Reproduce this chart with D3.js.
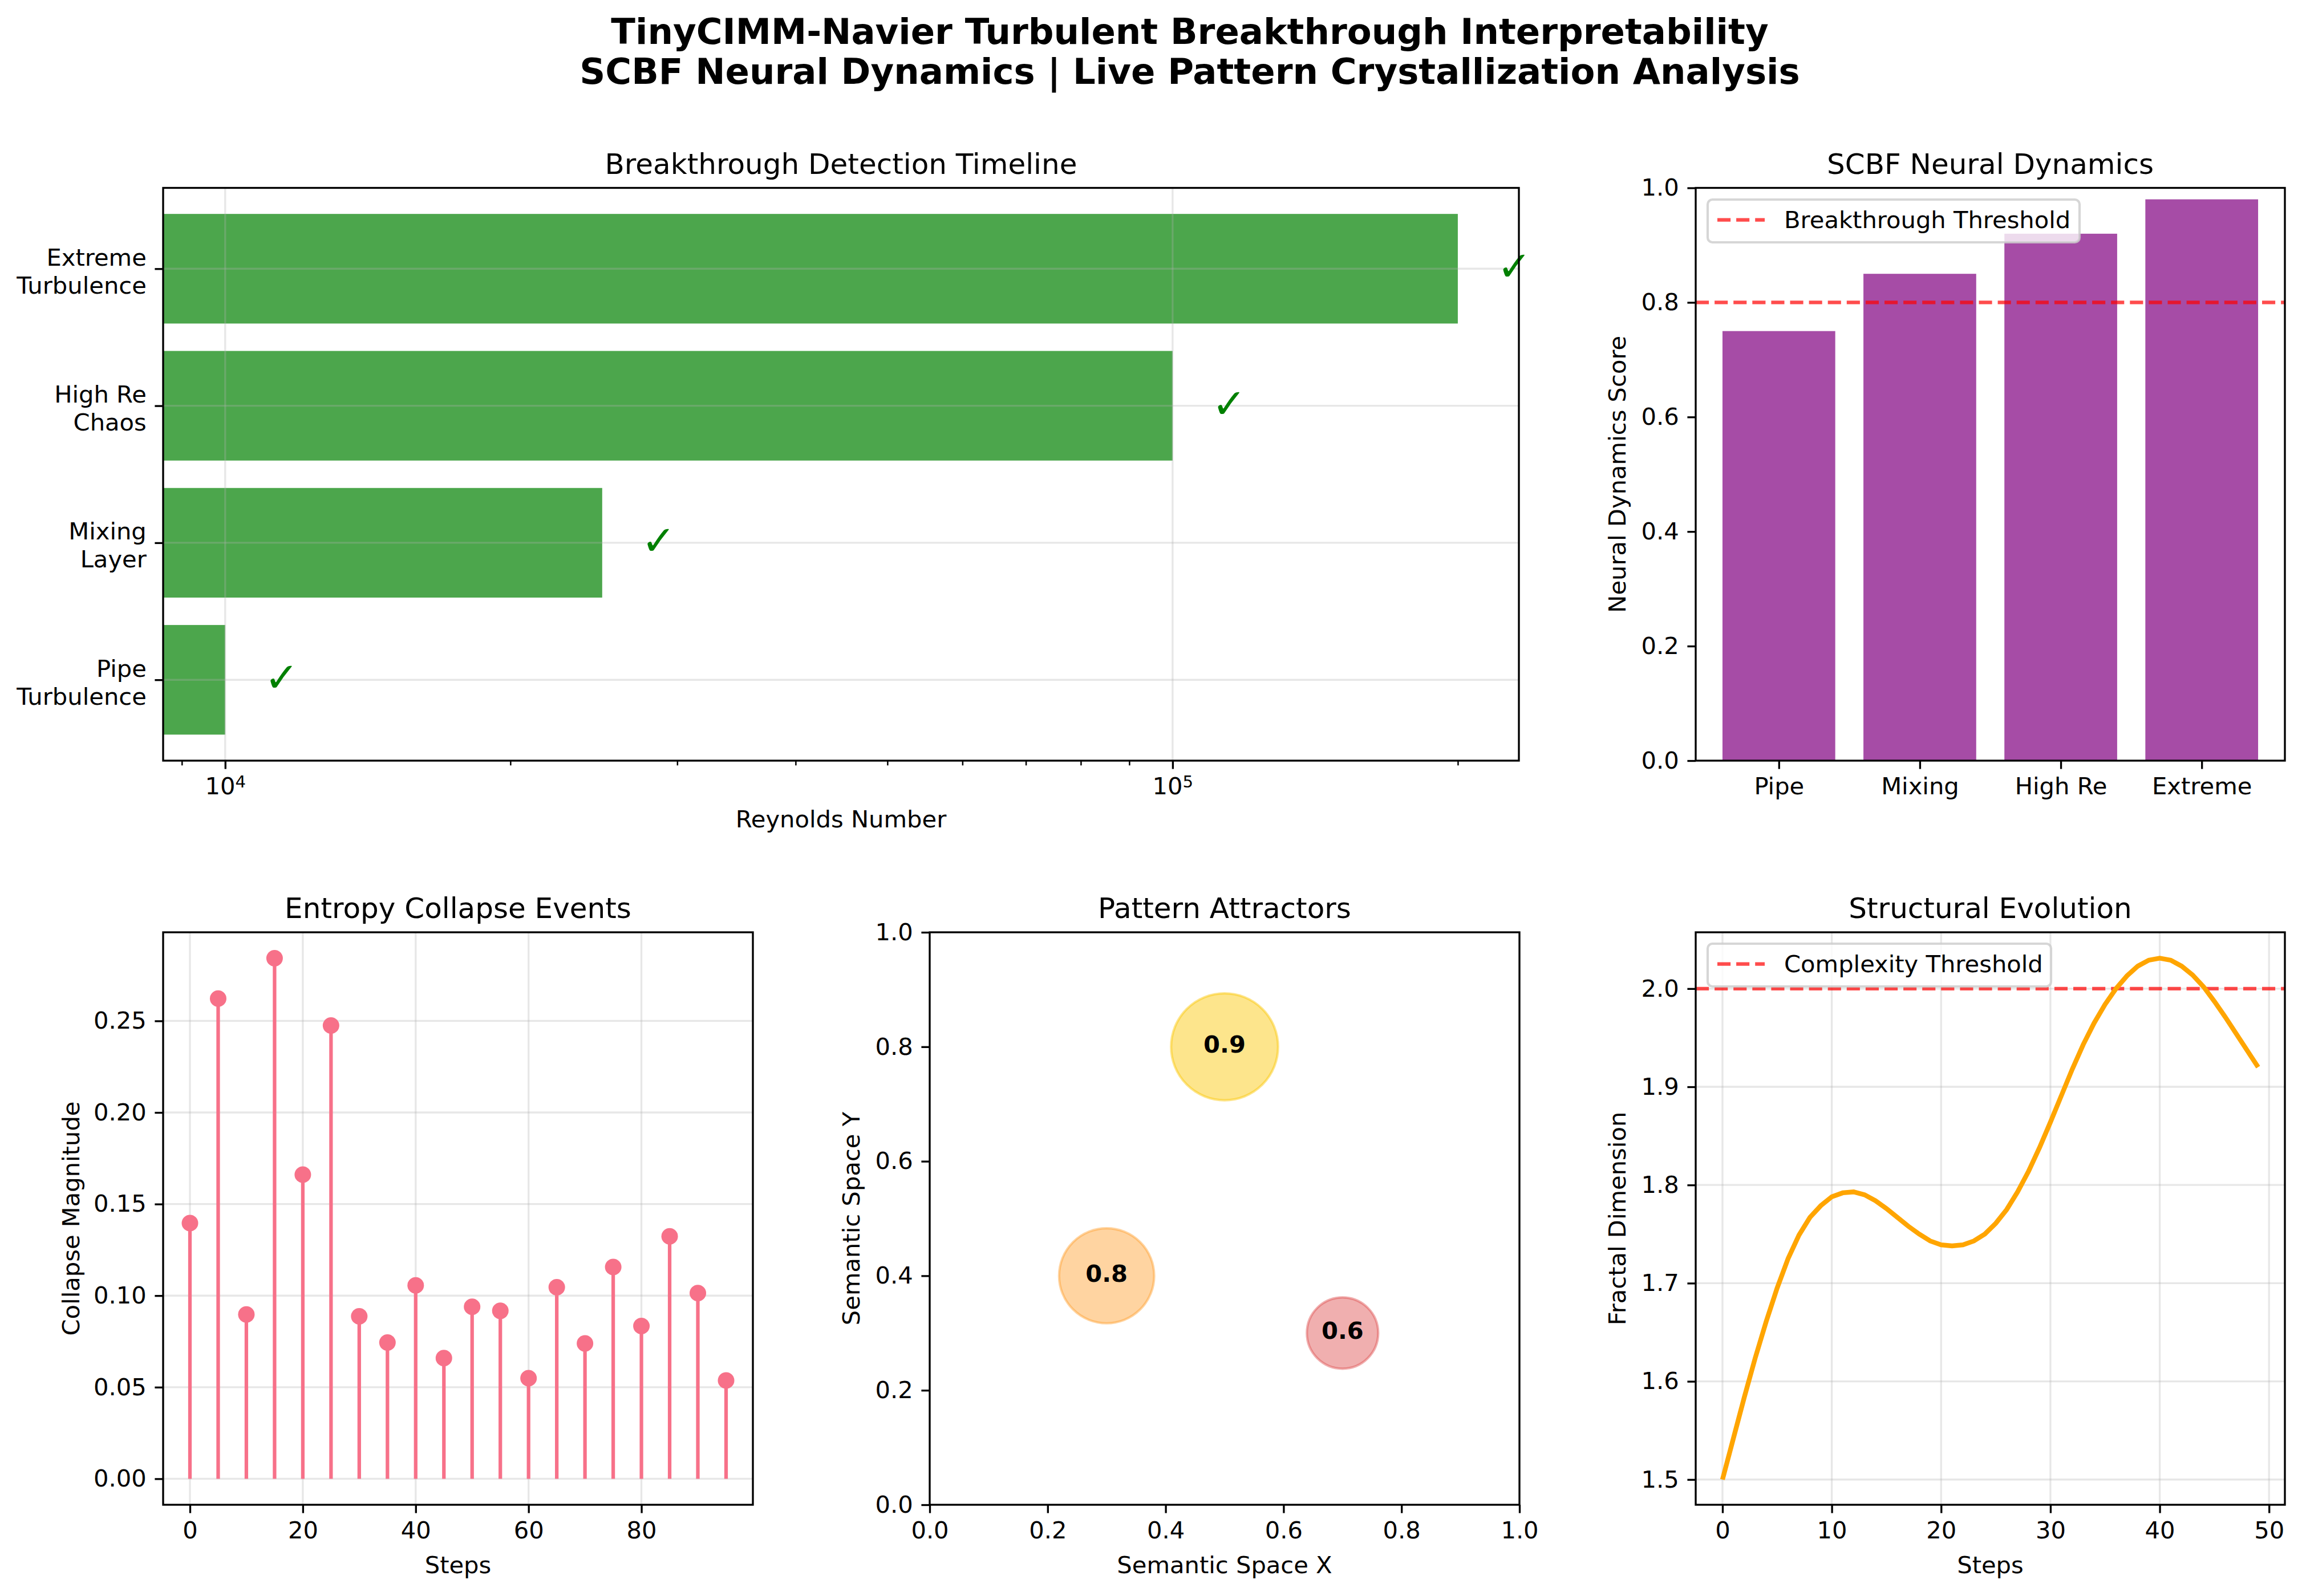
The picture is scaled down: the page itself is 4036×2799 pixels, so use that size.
<!DOCTYPE html>
<html>
<head>
<meta charset="utf-8">
<script src="https://cdn.jsdelivr.net/npm/d3@7"></script>
<style>
  html, body { margin: 0; background: #fff; }
  svg { display: block; }
  text { font-family: "DejaVu Sans"; fill: #000; }
</style>
</head>
<body>
<div id="chart"></div>
<script>
// breakthrough timeline
const regimes = ["Pipe\nTurbulence", "Mixing\nLayer", "High Re\nChaos", "Extreme\nTurbulence"];
const reynolds = [10000, 25000, 100000, 200000];

// neural dynamics
const regimesShort = ["Pipe", "Mixing", "High Re", "Extreme"];
const dynamicsScore = [0.75, 0.85, 0.92, 0.98];
const breakthroughThreshold = 0.8;

// entropy collapse events
const collapseSteps = [0, 5, 10, 15, 20, 25, 30, 35, 40, 45, 50, 55, 60, 65, 70, 75, 80, 85, 90, 95];
const collapseMagnitude = [0.1396, 0.2622, 0.0897, 0.2842, 0.1661, 0.2475, 0.0887, 0.0744, 0.1056, 0.0659,
    0.0939, 0.0917, 0.0549, 0.1046, 0.0739, 0.1156, 0.0834, 0.1324, 0.1014, 0.0537];

// attractors
const attractorX = [0.5, 0.3, 0.7];
const attractorY = [0.8, 0.4, 0.3];
const attractorStrength = [0.9, 0.8, 0.6];
const attractorColor = ["#fac500", "#ff9f2e", "#de4e4e"];

// structural evolution
const fractalDim = [1.500, 1.542, 1.584, 1.624, 1.661, 1.695, 1.725, 1.749, 1.767, 1.779,
    1.788, 1.792, 1.793, 1.790, 1.784, 1.776, 1.767, 1.758, 1.750, 1.743,
    1.739, 1.738, 1.739, 1.743, 1.750, 1.761, 1.775, 1.793, 1.814, 1.838,
    1.864, 1.891, 1.918, 1.943, 1.965, 1.984, 2.000, 2.013, 2.023, 2.029,
    2.031, 2.029, 2.023, 2.014, 2.002, 1.987, 1.971, 1.954, 1.937, 1.920];
const complexityThreshold = 2.0;

const width = 4036, height = 2799;
const TICK = 41.67, TITLE = 50, SUPTITLE = 62.5;
const RED = "#ff0000", GRID = "#b0b0b0", PINK = "#f77189";

const svg = d3.select("#chart").append("svg")
    .attr("width", width)
    .attr("height", height)
    .attr("viewBox", `0 0 ${width} ${height}`);

svg.append("rect").attr("width", width).attr("height", height).attr("fill", "#fff");

const suptitle = svg.append("text")
    .attr("text-anchor", "middle")
    .attr("font-size", SUPTITLE)
    .attr("font-weight", "bold");
suptitle.append("tspan").attr("x", 2086).attr("y", 77).text("TinyCIMM-Navier Turbulent Breakthrough Interpretability");
suptitle.append("tspan").attr("x", 2086).attr("y", 146.5).text("SCBF Neural Dynamics | Live Pattern Crystallization Analysis");

// one panel: returns plot group, frame gets added later so it stays on top
function panel(box, title, xLabel, yLabel, yLabelX, xLabelGap = 119.5) {
    const g = svg.append("g");
    g.append("text")
        .attr("x", (box.x0 + box.x1) / 2).attr("y", box.y0 - 25)
        .attr("text-anchor", "middle").attr("font-size", TITLE)
        .text(title);
    if (xLabel) g.append("text")
        .attr("x", (box.x0 + box.x1) / 2).attr("y", box.y1 + xLabelGap)
        .attr("text-anchor", "middle").attr("font-size", TICK)
        .text(xLabel);
    if (yLabel) g.append("text")
        .attr("transform", `translate(${yLabelX},${(box.y0 + box.y1) / 2}) rotate(-90)`)
        .attr("text-anchor", "middle").attr("font-size", TICK)
        .text(yLabel);
    return g;
}

function styleAxis(sel) {
    sel.select(".domain").remove();
    sel.selectAll(".tick line").attr("stroke", "#000").attr("stroke-width", 3.33);
    sel.selectAll(".tick text").attr("font-size", TICK).attr("font-family", "DejaVu Sans").attr("fill", "#000");
}

function xAxis(g, box, scale, ticks, fmt) {
    g.append("g").attr("transform", `translate(0,${box.y1})`)
        .call(d3.axisBottom(scale).tickValues(ticks).tickFormat(fmt).tickSize(14.6).tickPadding(14.6))
        .call(styleAxis);
}

function yAxis(g, box, scale, ticks, fmt) {
    g.append("g").attr("transform", `translate(${box.x0},0)`)
        .call(d3.axisLeft(scale).tickValues(ticks).tickFormat(fmt).tickSize(14.6).tickPadding(14.6))
        .call(styleAxis);
}

function grid(g, box, x, xTicks, y, yTicks) {
    const gg = g.append("g").attr("stroke", GRID).attr("stroke-width", 3.33).attr("stroke-opacity", 0.3);
    gg.selectAll(".gx").data(xTicks).enter().append("line")
        .attr("x1", d => x(d)).attr("x2", d => x(d)).attr("y1", box.y0).attr("y2", box.y1);
    gg.selectAll(".gy").data(yTicks).enter().append("line")
        .attr("y1", d => y(d)).attr("y2", d => y(d)).attr("x1", box.x0).attr("x2", box.x1);
}

function frame(g, box) {
    g.append("rect")
        .attr("x", box.x0).attr("y", box.y0)
        .attr("width", box.x1 - box.x0).attr("height", box.y1 - box.y0)
        .attr("fill", "none").attr("stroke", "#000").attr("stroke-width", 3.33);
}

function threshold(g, box, y, v) {
    g.append("line")
        .attr("x1", box.x0).attr("x2", box.x1).attr("y1", y(v)).attr("y2", y(v))
        .attr("stroke", RED).attr("stroke-opacity", 0.7).attr("stroke-width", 6.25)
        .attr("stroke-dasharray", "23.1 10");
}

function legend(g, x, y, w, label) {
    const h = 75;
    g.append("rect").attr("x", x).attr("y", y).attr("width", w).attr("height", h).attr("rx", 8.3)
        .attr("fill", "#fff").attr("fill-opacity", 0.8)
        .attr("stroke", "#ccc").attr("stroke-opacity", 0.8).attr("stroke-width", 4.17);
    g.append("line").attr("x1", x + 17).attr("x2", x + 100).attr("y1", y + h / 2 - 2).attr("y2", y + h / 2 - 2)
        .attr("stroke", RED).attr("stroke-opacity", 0.7).attr("stroke-width", 6.25)
        .attr("stroke-dasharray", "23.1 10");
    g.append("text").attr("x", x + 134).attr("y", y + h / 2 + 12)
        .attr("font-size", TICK).text(label);
}

// ---- timeline ----
{
    const box = { x0: 286, x1: 2663, y0: 329.5, y1: 1334 };
    const x = d3.scaleLog().domain([8600, 232000]).range([box.x0, box.x1]);
    const y = d3.scaleLinear().domain([-0.59, 3.59]).range([box.y1, box.y0]);
    const idx = d3.range(regimes.length);
    const g = panel(box, "Breakthrough Detection Timeline", "Reynolds Number", null, 0, 117);

    g.selectAll(".bar").data(idx).enter().append("rect")
        .attr("x", box.x0)
        .attr("y", i => y(i + 0.4))
        .attr("width", i => x(reynolds[i]) - box.x0)
        .attr("height", i => y(i - 0.4) - y(i + 0.4))
        .attr("fill", "#008000").attr("fill-opacity", 0.7);

    grid(g, box, x, [1e4, 1e5], y, idx);

    g.selectAll(".check").data(idx).enter().append("text")
        .attr("x", i => x(reynolds[i] * 1.1))
        .attr("y", i => y(i) - 4)
        .attr("dy", "0.35em")
        .attr("font-size", 72).attr("font-weight", "bold").style("fill", "#008000")
        .text("\u2713");

    // log axis with minor ticks
    const minor = [9e3, 2e4, 3e4, 4e4, 5e4, 6e4, 7e4, 8e4, 9e4, 2e5];
    g.append("g").attr("transform", `translate(0,${box.y1})`)
        .call(d3.axisBottom(x).tickValues(minor).tickFormat("").tickSize(8.33))
        .call(styleAxis)
        .selectAll(".tick line").attr("stroke-width", 2.5);
    const major = g.append("g").attr("transform", `translate(0,${box.y1})`)
        .call(d3.axisBottom(x).tickValues([1e4, 1e5]).tickFormat(d => "10").tickSize(14.6).tickPadding(14.6))
        .call(styleAxis);
    major.selectAll(".tick text").append("tspan")
        .attr("dy", "-0.42em").attr("font-size", 29.2)
        .text(d => Math.round(Math.log10(d)));

    const ay = g.append("g").attr("transform", `translate(${box.x0},0)`)
        .call(d3.axisLeft(y).tickValues(idx).tickFormat("").tickSize(14.6))
        .call(styleAxis);
    ay.selectAll(".tick").append("text")
        .attr("text-anchor", "end").attr("font-size", TICK)
        .selectAll("tspan").data(i => regimes[i].split("\n").map((s, k) => ({ s, k }))).enter().append("tspan")
        .attr("x", -29.2)
        .attr("y", d => (d.k === 0 ? -6 : 43))
        .text(d => d.s);

    frame(g, box);
}

// ---- neural dynamics ----
{
    const box = { x0: 2973, x1: 4006, y0: 329.5, y1: 1334 };
    const x = d3.scaleLinear().domain([-0.59, 3.59]).range([box.x0, box.x1]);
    const y = d3.scaleLinear().domain([0, 1]).range([box.y1, box.y0]);
    const idx = d3.range(regimesShort.length);
    const g = panel(box, "SCBF Neural Dynamics", null, "Neural Dynamics Score", 2850);

    g.selectAll(".bar").data(idx).enter().append("rect")
        .attr("x", i => x(i - 0.4))
        .attr("y", i => y(dynamicsScore[i]))
        .attr("width", i => x(i + 0.4) - x(i - 0.4))
        .attr("height", i => y(0) - y(dynamicsScore[i]))
        .attr("fill", "#800080").attr("fill-opacity", 0.7);

    threshold(g, box, y, breakthroughThreshold);
    xAxis(g, box, x, idx, i => regimesShort[i]);
    yAxis(g, box, y, d3.range(0, 1.01, 0.2), d3.format(".1f"));
    legend(g, 2994, 350, 652, "Breakthrough Threshold");
    frame(g, box);
}

// ---- entropy collapse ----
{
    const box = { x0: 286, x1: 1320, y0: 1635, y1: 2639 };
    const x = d3.scaleLinear().domain([-4.75, 99.75]).range([box.x0, box.x1]);
    const y = d3.scaleLinear().domain([-0.0142, 0.2984]).range([box.y1, box.y0]);
    const xt = [0, 20, 40, 60, 80], yt = [0, 0.05, 0.1, 0.15, 0.2, 0.25];
    const g = panel(box, "Entropy Collapse Events", "Steps", "Collapse Magnitude", 139);

    grid(g, box, x, xt, y, yt);

    g.selectAll(".stem").data(collapseSteps).enter().append("line")
        .attr("x1", d => x(d)).attr("x2", d => x(d))
        .attr("y1", y(0)).attr("y2", (d, i) => y(collapseMagnitude[i]))
        .attr("stroke", PINK).attr("stroke-width", 6.25);
    g.selectAll(".dot").data(collapseSteps).enter().append("circle")
        .attr("cx", d => x(d)).attr("cy", (d, i) => y(collapseMagnitude[i]))
        .attr("r", 14.5).attr("fill", PINK);

    xAxis(g, box, x, xt, d3.format("d"));
    yAxis(g, box, y, yt, d3.format(".2f"));
    frame(g, box);
}

// ---- attractors ----
{
    const box = { x0: 1630, x1: 2664, y0: 1635, y1: 2639 };
    const x = d3.scaleLinear().domain([0, 1]).range([box.x0, box.x1]);
    const y = d3.scaleLinear().domain([0, 1]).range([box.y1, box.y0]);
    const r = d3.scaleLinear().domain([0, 1]).range([0, 104.17]);
    const t = d3.range(0, 1.01, 0.2);
    const g = panel(box, "Pattern Attractors", "Semantic Space X", "Semantic Space Y", 1507);

    g.selectAll(".att").data(attractorX).enter().append("circle")
        .attr("cx", d => x(d)).attr("cy", (d, i) => y(attractorY[i]))
        .attr("r", (d, i) => r(attractorStrength[i]))
        .attr("fill", (d, i) => attractorColor[i]).attr("fill-opacity", 0.45)
        .attr("stroke", (d, i) => attractorColor[i]).attr("stroke-opacity", 0.45).attr("stroke-width", 4.17);
    g.selectAll(".lab").data(attractorX).enter().append("text")
        .attr("x", d => x(d)).attr("y", (d, i) => y(attractorY[i]))
        .attr("dy", "0.25em")
        .attr("text-anchor", "middle").attr("font-size", TICK).attr("font-weight", "bold")
        .text((d, i) => attractorStrength[i].toFixed(1));

    xAxis(g, box, x, t, d3.format(".1f"));
    yAxis(g, box, y, t, d3.format(".1f"));
    frame(g, box);
}

// ---- structural evolution ----
{
    const box = { x0: 2973, x1: 4006, y0: 1635, y1: 2639 };
    const x = d3.scaleLinear().domain([-2.45, 51.45]).range([box.x0, box.x1]);
    const y = d3.scaleLinear().domain([1.4743, 2.0574]).range([box.y1, box.y0]);
    const xt = [0, 10, 20, 30, 40, 50], yt = [1.5, 1.6, 1.7, 1.8, 1.9, 2.0];
    const g = panel(box, "Structural Evolution", "Steps", "Fractal Dimension", 2850);

    grid(g, box, x, xt, y, yt);
    threshold(g, box, y, complexityThreshold);

    const line = d3.line().x((d, i) => x(i)).y(d => y(d));
    g.append("path").datum(fractalDim)
        .attr("d", line)
        .attr("fill", "none").attr("stroke", "#ffa500").attr("stroke-width", 8.33);

    xAxis(g, box, x, xt, d3.format("d"));
    yAxis(g, box, y, yt, d3.format(".1f"));
    legend(g, 2994, 1655, 602, "Complexity Threshold");
    frame(g, box);
}
</script>
</body>
</html>
